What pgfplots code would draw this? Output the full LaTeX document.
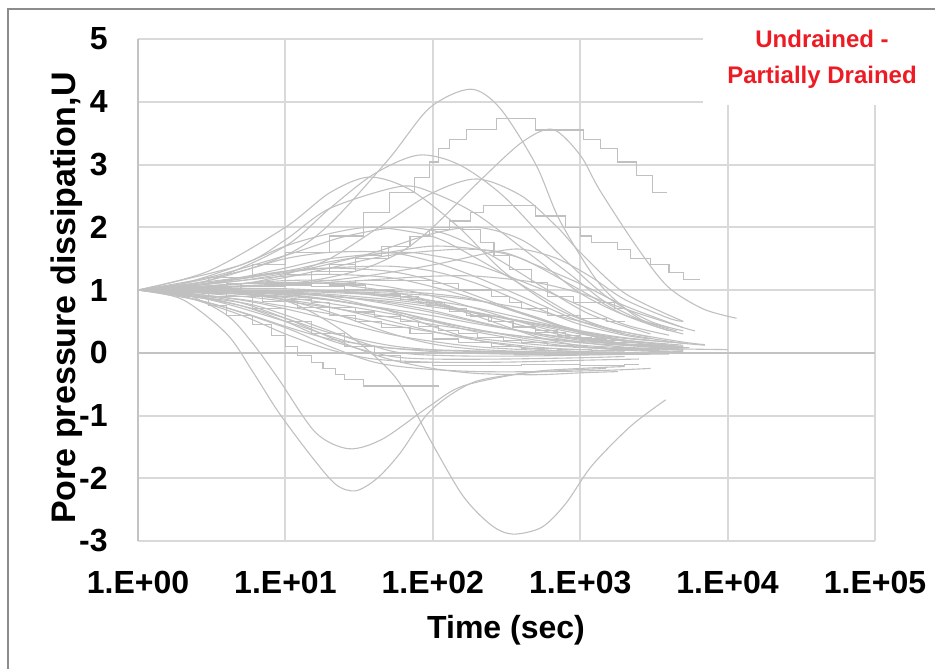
\documentclass[border=0pt]{standalone}
\usepackage{pgfplots}
\pgfplotsset{compat=1.18}
\usepackage{fontspec}
\setmainfont{Liberation Sans}
\definecolor{gridc}{RGB}{217,217,217}
\definecolor{axisc}{RGB}{195,195,195}
\definecolor{curvec}{RGB}{192,192,192}
\definecolor{titlered}{RGB}{237,28,36}
\definecolor{framec}{RGB}{140,140,140}
\begin{document}
\begin{tikzpicture}
\useasboundingbox (0,0) rectangle (467.5pt,334.5pt);
\begin{axis}[
  at={(69pt,64pt)}, anchor=south west, scale only axis,
  width=368.5pt, height=251pt,
  xmode=log, log basis x=10, xmin=1, xmax=100000, ymin=-3, ymax=5,
  xtick={1,10,100,1000,10000,100000},
  xticklabels={1.E+00,1.E+01,1.E+02,1.E+03,1.E+04,1.E+05},
  ytick={-3,-2,-1,0,1,2,3,4,5},
  yticklabels={-3,-2,-1,0,1,2,3,4,5},
  xminorticks=false,
  grid=major, major grid style={draw=gridc, line width=1pt},
  axis line style={draw=none},
  major tick length=0pt,
  extra x ticks={1}, extra x tick labels={},
  extra y ticks={0}, extra y tick labels={},
  extra tick style={grid=major, major grid style={draw=axisc, line width=1pt}},
  tick label style={font=\fontsize{16}{19}\selectfont\bfseries},
  xticklabel style={anchor=base, yshift=-26pt},
  yticklabel style={anchor=east, inner sep=0pt, xshift=-15pt},
  every axis plot/.append style={draw=curvec, mark=none, solid, line width=0.55pt},
]
% ---- large humps ----
\addplot[smooth] coordinates {(1,1)(3,1.15)(10,1.55)(20,2.05)(50,3.08)(95,3.9)(180,4.2)(285,3.9)(500,3.0)(730,2.1)(1350,1.1)(2500,0.55)(4500,0.35)};
\addplot[smooth] coordinates {(1,1)(10,1.1)(30,1.3)(60,1.6)(100,2.0)(200,2.7)(400,3.35)(650,3.56)(1000,3.15)(1350,2.6)(2400,1.7)(3900,1.06)(6800,0.7)(11500,0.55)};
\addplot[const plot] coordinates {(1,1)(3,1.2)(6,1.4)(10,1.6)(20,1.86)(34,2.24)(51,2.56)(75,2.8)(95,3.04)(110,3.25)(130,3.4)(170,3.56)(270,3.73)(500,3.55)(1050,3.4)(1370,3.25)(1780,3.04)(2400,2.82)(3100,2.56)(3900,2.56)};
\addplot[smooth] coordinates {(1,1)(3,1.15)(10,1.7)(20,2.3)(40,2.85)(80,3.15)(150,3.0)(300,2.5)(700,1.6)(1500,0.9)(3000,0.5)(5000,0.35)};
\addplot[smooth] coordinates {(1,1)(3,1.3)(10,2.0)(20,2.55)(37,2.8)(70,2.6)(150,2.0)(300,1.3)(700,0.7)(1500,0.4)(3000,0.25)};
\addplot[smooth] coordinates {(1,1)(5,1.4)(10,1.8)(20,2.3)(60,2.65)(100,2.55)(200,2.2)(500,1.5)(1000,0.95)(2000,0.6)(4000,0.4)};
\addplot[smooth] coordinates {(1,1)(5,1.1)(10,1.25)(20,1.5)(50,2.1)(100,2.55)(200,2.77)(400,2.5)(700,2.0)(1000,1.6)(2000,0.95)(5000,0.5)};
\addplot[const plot] coordinates {(1,1)(5,1.1)(15,1.3)(30,1.5)(50,1.7)(70,1.85)(95,1.97)(130,2.1)(180,2.24)(220,2.34)(500,2.18)(800,2.0)(1000,1.86)(1200,1.76)(1800,1.65)(2200,1.5)(3000,1.4)(4000,1.28)(5000,1.17)(6500,1.17)};
\addplot[const plot] coordinates {(1,1)(4,1.1)(10,1.25)(20,1.4)(30,1.55)(45,1.7)(70,1.85)(100,2.0)(160,1.97)(210,1.76)(260,1.55)(330,1.33)(470,1.12)(600,0.9)(900,0.8)(1700,0.7)(2000,0.7)};
% ---- moderate humps ----
\addplot[smooth] coordinates {(1,1)(2,1.05)(5,1.15)(10,1.22)(20,1.25)(50,1.2)(100,1.05)(200,0.85)(500,0.55)(1000,0.35)(2000,0.2)(5000,0.1)};
\addplot[smooth] coordinates {(1,1)(2,1.08)(5,1.2)(10,1.3)(20,1.35)(50,1.3)(100,1.15)(200,0.9)(500,0.55)(1000,0.32)(2000,0.18)(4000,0.1)};
\addplot[smooth] coordinates {(1,1)(2,1.03)(5,1.1)(10,1.15)(20,1.15)(50,1.05)(100,0.9)(200,0.7)(500,0.42)(1000,0.25)(2000,0.14)};
\addplot[smooth] coordinates {(1,1)(2,1.1)(5,1.3)(10,1.5)(20,1.6)(50,1.6)(100,1.45)(200,1.2)(500,0.8)(1000,0.5)(2000,0.3)(5000,0.15)};
\addplot[smooth] coordinates {(1,1)(2,1.05)(5,1.2)(10,1.35)(20,1.5)(60,1.6)(100,1.55)(200,1.4)(500,1.05)(1000,0.75)(2000,0.45)(4000,0.28)};
\addplot[smooth] coordinates {(1,1)(2,1.1)(5,1.4)(10,1.7)(20,1.9)(40,2.0)(100,1.85)(200,1.5)(500,0.95)(1000,0.55)(2000,0.3)};
\addplot[smooth] coordinates {(1,1)(5,1.1)(10,1.2)(20,1.35)(50,1.55)(150,1.65)(300,1.6)(500,1.4)(1000,1.1)(2000,0.75)(5000,0.4)};
\addplot[smooth] coordinates {(1,1)(5,1.05)(20,1.12)(50,1.18)(100,1.22)(200,1.22)(500,1.12)(1000,0.95)(2000,0.7)(5000,0.4)(6000,0.35)};
\addplot[smooth] coordinates {(1,1)(2,1.06)(5,1.18)(10,1.28)(20,1.35)(50,1.38)(100,1.3)(200,1.1)(500,0.72)(1000,0.45)(2000,0.28)(3000,0.22)};
\addplot[smooth] coordinates {(1,1)(3,1.1)(10,1.3)(20,1.45)(50,1.6)(100,1.7)(200,1.65)(400,1.5)(1000,1.0)(2000,0.6)(4000,0.35)};
\addplot[smooth] coordinates {(1,1)(10,1.1)(30,1.2)(100,1.4)(250,1.6)(400,1.65)(700,1.5)(1200,1.2)(2000,0.85)(4000,0.55)(5000,0.5)};
\addplot[smooth] coordinates {(1,1)(2,1.04)(5,1.1)(10,1.12)(20,1.1)(50,0.98)(100,0.82)(200,0.62)(500,0.38)(1000,0.22)(2000,0.12)(5000,0.06)};
\addplot[smooth] coordinates {(1,1)(3,1.2)(10,1.55)(25,1.85)(60,2.0)(120,1.9)(250,1.55)(600,1.0)(1200,0.6)(3000,0.3)};
\addplot[smooth] coordinates {(1,1)(5,1.15)(15,1.35)(40,1.6)(100,1.9)(200,2.0)(400,1.8)(800,1.3)(1500,0.8)(3000,0.45)(5000,0.3)};
% ---- decays ----
\addplot[smooth] coordinates {(1,1)(2,0.96)(5,0.84)(10,0.7)(20,0.53)(50,0.3)(100,0.18)(200,0.095)(500,0.04)(1000,0.02)};
\addplot[smooth] coordinates {(1,1)(2,0.98)(5,0.93)(10,0.85)(20,0.73)(50,0.51)(100,0.34)(200,0.2)(500,0.09)(1000,0.05)(2000,0.025)};
\addplot[smooth] coordinates {(1,1)(2,0.99)(5,0.96)(10,0.92)(20,0.84)(50,0.68)(100,0.5)(200,0.33)(500,0.17)(1000,0.09)(2000,0.05)(5000,0.02)};
\addplot[smooth] coordinates {(1,1)(5,0.98)(10,0.95)(20,0.91)(50,0.8)(100,0.67)(200,0.5)(500,0.29)(1000,0.17)(2000,0.09)(5000,0.04)};
\addplot[smooth] coordinates {(1,1)(5,0.99)(10,0.98)(20,0.96)(50,0.91)(100,0.83)(200,0.71)(500,0.5)(1000,0.33)(2000,0.2)(5000,0.09)};
\addplot[smooth] coordinates {(1,1)(10,0.99)(20,0.98)(50,0.95)(100,0.91)(200,0.83)(500,0.67)(1000,0.5)(2000,0.33)(5000,0.17)(7000,0.13)};
\addplot[smooth] coordinates {(1,1)(2,0.98)(5,0.94)(10,0.84)(20,0.65)(50,0.32)(100,0.14)(200,0.055)(500,0.015)(1000,0.01)};
\addplot[smooth] coordinates {(1,1)(5,0.98)(10,0.96)(20,0.89)(50,0.67)(100,0.42)(200,0.2)(500,0.06)(1000,0.02)(2000,0.01)};
\addplot[smooth] coordinates {(1,1)(10,0.99)(20,0.98)(50,0.92)(100,0.8)(200,0.58)(500,0.26)(1000,0.11)(2000,0.04)(5000,0.01)};
\addplot[smooth] coordinates {(1,1)(20,0.99)(50,0.98)(100,0.94)(200,0.84)(500,0.57)(1000,0.32)(2000,0.14)(5000,0.04)};
\addplot[smooth] coordinates {(1,1)(2,0.95)(5,0.85)(10,0.74)(20,0.62)(50,0.45)(100,0.33)(200,0.23)(500,0.13)(1000,0.087)(2000,0.055)(3000,0.045)};
\addplot[smooth] coordinates {(1,1)(2,0.98)(5,0.94)(10,0.9)(20,0.84)(50,0.7)(100,0.59)(200,0.46)(500,0.31)(1000,0.22)(2000,0.14)(5000,0.08)};
\addplot[smooth] coordinates {(1,1)(2,0.99)(5,0.97)(10,0.94)(20,0.9)(50,0.82)(100,0.73)(200,0.63)(500,0.47)(1000,0.35)(2000,0.24)(5000,0.15)(7000,0.12)};
\addplot[smooth] coordinates {(1,1)(5,0.97)(10,0.93)(20,0.85)(50,0.68)(100,0.52)(200,0.37)(500,0.2)(1000,0.12)(2000,0.08)(5000,0.06)(10000,0.05)};
\addplot[smooth] coordinates {(1,1)(2,1.0)(5,0.99)(10,0.97)(20,0.93)(50,0.85)(100,0.76)(200,0.64)(500,0.46)(1000,0.33)(2000,0.23)(4000,0.17)};
\addplot[smooth] coordinates {(1,1)(2,0.97)(5,0.9)(10,0.82)(20,0.72)(50,0.57)(100,0.45)(200,0.35)(500,0.24)(1000,0.18)(2000,0.14)(4000,0.12)};
\addplot[smooth] coordinates {(1,1)(3,1.02)(10,1.02)(30,0.95)(100,0.78)(300,0.55)(1000,0.3)(2000,0.2)(5000,0.12)};
\addplot[smooth] coordinates {(1,1)(3,0.97)(10,0.88)(30,0.72)(100,0.5)(300,0.3)(1000,0.16)(3000,0.1)(5000,0.08)};
\addplot[smooth] coordinates {(1,1)(3,1.0)(10,0.96)(30,0.86)(100,0.64)(300,0.4)(1000,0.2)(3000,0.1)(5500,0.08)};
% ---- fast decays near zero ----
\addplot[smooth] coordinates {(1,1)(2,0.9)(5,0.65)(10,0.42)(20,0.22)(50,0.08)(100,0.04)(200,0.02)(500,0.01)(1500,0.01)};
\addplot[smooth] coordinates {(1,1)(2,0.93)(5,0.75)(10,0.55)(20,0.32)(50,0.12)(100,0.05)(300,0.02)(1000,0.0)(2500,0.0)};
\addplot[smooth] coordinates {(1,1)(3,0.85)(10,0.5)(30,0.15)(100,0.02)(300,-0.02)(1000,-0.03)(3000,-0.02)};
% ---- staircases ----
\addplot[const plot] coordinates {(1,1)(3,0.95)(6,0.9)(10,0.85)(15,0.8)(20,0.72)(30,0.65)(40,0.58)(60,0.5)(80,0.42)(110,0.36)(150,0.3)(200,0.25)(300,0.2)(400,0.16)(600,0.12)(900,0.09)(1500,0.07)(2500,0.06)(3500,0.06)};
\addplot[const plot] coordinates {(1,1)(2,1.02)(4,1.05)(8,1.08)(15,1.05)(25,1.0)(40,0.92)(60,0.85)(90,0.75)(130,0.66)(180,0.58)(250,0.5)(350,0.42)(500,0.35)(700,0.28)(1000,0.22)(1500,0.17)(2500,0.12)(4000,0.1)(5000,0.1)};
\addplot[const plot] coordinates {(1,1)(5,1.05)(10,1.1)(30,1.15)(60,1.15)(100,1.1)(150,1.0)(250,0.9)(330,0.8)(400,0.7)(600,0.6)(1000,0.55)(1500,0.5)(2000,0.5)};
\addplot[const plot] coordinates {(1,1)(2,0.96)(4,0.9)(7,0.82)(12,0.72)(20,0.6)(30,0.5)(45,0.4)(70,0.3)(100,0.22)(150,0.16)(250,0.1)(400,0.07)(700,0.05)(1200,0.04)(2000,0.04)};
\addplot[const plot] coordinates {(1,1)(3,1.05)(8,1.1)(20,1.08)(35,1.0)(55,0.9)(80,0.8)(120,0.7)(170,0.6)(240,0.5)(350,0.4)(500,0.32)(800,0.25)(1200,0.2)(2000,0.16)(3000,0.14)};
\addplot[const plot] coordinates {(1,1)(2,0.9)(3,0.75)(4,0.6)(6,0.45)(8,0.27)(10,0.1)(12,-0.05)(15,-0.15)(18,-0.25)(22,-0.35)(25,-0.42)(34,-0.53)(110,-0.53)};
% ---- negative ----
\addplot[smooth] coordinates {(1,1)(3,1.02)(8,0.9)(15,0.65)(30,0.2)(57,-0.42)(95,-1.37)(160,-2.28)(250,-2.75)(350,-2.89)(550,-2.78)(800,-2.4)(1200,-1.8)(2200,-1.17)(3800,-0.75)};
\addplot[smooth] coordinates {(1,1)(2,0.85)(4,0.3)(6,-0.3)(9,-0.95)(15,-1.65)(22,-2.1)(30,-2.2)(42,-2.0)(60,-1.6)(90,-1.0)(130,-0.68)(200,-0.45)(400,-0.33)(800,-0.28)(1500,-0.25)};
\addplot[smooth] coordinates {(1,1)(2,0.95)(4,0.6)(6,0.15)(9,-0.42)(16,-1.27)(27,-1.53)(46,-1.37)(95,-0.85)(160,-0.53)(450,-0.31)(1000,-0.25)(2000,-0.22)};
\addplot[smooth] coordinates {(1,1)(2,0.9)(5,0.6)(10,0.3)(20,0.05)(40,-0.1)(100,-0.15)(300,-0.15)(1000,-0.12)(2500,-0.1)};
\addplot[smooth] coordinates {(1,1)(3,0.8)(10,0.4)(20,0.1)(40,-0.15)(80,-0.25)(200,-0.3)(600,-0.3)(1500,-0.28)(3000,-0.25)};
\addplot[smooth] coordinates {(1,1)(2,0.95)(5,0.75)(10,0.5)(20,0.2)(50,-0.05)(100,-0.1)(300,-0.1)(1000,-0.08)(2000,-0.06)};
\addplot[smooth] coordinates {(1,1)(5,0.8)(10,0.6)(30,0.2)(60,0.0)(150,-0.05)(500,-0.05)(1500,-0.03)(4000,-0.02)};
\addplot[smooth] coordinates {(1,1)(4,0.85)(10,0.55)(25,0.15)(50,-0.1)(100,-0.25)(200,-0.33)(500,-0.35)(1000,-0.32)(1800,-0.3)};
\addplot[const plot] coordinates {(1,1)(3,0.9)(6,0.7)(10,0.5)(15,0.3)(25,0.1)(40,-0.05)(60,-0.15)(100,-0.2)(400,-0.18)(1000,-0.2)(2000,-0.18)(2500,-0.18)};
\end{axis}
\fill[white] (351.5pt,282pt) rectangle (467.5pt,329pt);
\draw[color=framec, line width=0.6pt] (4pt,0pt) -- (4pt,330pt) -- (467.5pt,330pt);
\node[anchor=base, text=titlered, font=\fontsize{12}{18}\selectfont\bfseries] at (411pt,310.5pt) {Undrained -};
\node[anchor=base, text=titlered, font=\fontsize{12}{18}\selectfont\bfseries] at (411pt,292.5pt) {Partially Drained};
\node[anchor=base, font=\fontsize{16}{19}\selectfont\bfseries] at (253pt,15.5pt) {Time (sec)};
\node[rotate=90, anchor=base, font=\fontsize{17}{20}\selectfont\bfseries] at (37.5pt,185.5pt) {Pore pressure dissipation,U};
\end{tikzpicture}
\end{document}
